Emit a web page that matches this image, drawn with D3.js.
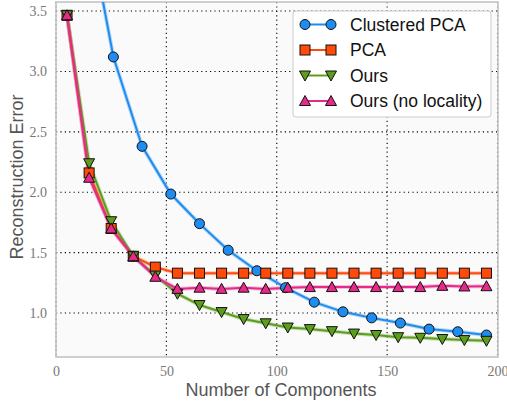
<!DOCTYPE html>
<meta charset="utf-8">
<style>
body { margin: 0; background: #fff; }
.grid line { stroke: #000; stroke-dasharray: 1.2,3.2; stroke-width: 1.1; }
.tick text { font-family: "Liberation Serif", serif; font-size: 14px; fill: #777; }
.legend text { font-family: "Liberation Sans", Arial, sans-serif; font-size: 17.5px; fill: #111; }
.title { font-family: "Liberation Sans", Arial, sans-serif; font-size: 18px; fill: #555; }
</style>
<svg width="507" height="405"></svg>
<script src="https://d3js.org/d3.v7.min.js"></script>
<script>

var svg = d3.select("svg"),
    plotLeft = 56, plotRight = 498, plotTop = 2, plotBottom = 357;

// data
var xClustered = [13, 26, 39, 52, 65, 78, 91, 104, 117, 130, 143, 156, 169, 182, 195];
var clusteredPCA = [4.38, 3.12, 2.38, 1.985, 1.74, 1.52, 1.35, 1.21, 1.09, 1.01, 0.96, 0.917, 0.867, 0.845, 0.818];

var xOthers = [5, 15, 25, 35, 45, 55, 65, 75, 85, 95, 105, 115, 125, 135, 145, 155, 165, 175, 185, 195];
var pca = [3.465, 2.16, 1.70, 1.47, 1.38, 1.33, 1.33, 1.33, 1.33, 1.33, 1.33, 1.33, 1.33, 1.33, 1.33, 1.33, 1.33, 1.33, 1.33, 1.33];
var ours = [3.465, 2.24, 1.76, 1.47, 1.31, 1.16, 1.066, 1.008, 0.95, 0.915, 0.88, 0.867, 0.85, 0.83, 0.818, 0.80, 0.795, 0.785, 0.776, 0.77];
var oursNoLoc = [3.465, 2.12, 1.70, 1.47, 1.30, 1.20, 1.21, 1.20, 1.21, 1.20, 1.21, 1.215, 1.215, 1.215, 1.215, 1.215, 1.215, 1.225, 1.22, 1.222];

var xTicks = [0, 50, 100, 150, 200];
var yTicks = [1.0, 1.5, 2.0, 2.5, 3.0, 3.5];

var series = [
  {name: "Clustered PCA", xs: xClustered, ys: clusteredPCA, color: "#1e8cf0", marker: "circle"},
  {name: "PCA", xs: xOthers, ys: pca, color: "#ff4a0a", marker: "square"},
  {name: "Ours", xs: xOthers, ys: ours, color: "#5c9e1c", marker: "down"},
  {name: "Ours (no locality)", xs: xOthers, ys: oursNoLoc, color: "#e62a8a", marker: "up"}
];

var x = d3.scaleLinear().domain([0, 200]).range([plotLeft, 497.5]);
var y = d3.scaleLinear().domain([0.636, 3.575]).range([plotBottom, plotTop]);

svg.append("defs").append("clipPath").attr("id", "clip")
  .append("rect").attr("x", plotLeft).attr("y", plotTop)
  .attr("width", plotRight - plotLeft).attr("height", plotBottom - plotTop);

svg.append("rect")
  .attr("x", plotLeft).attr("y", plotTop).attr("width", plotRight - plotLeft).attr("height", plotBottom - plotTop)
  .attr("fill", "#fafafa");

// grid
var grid = svg.append("g").attr("class", "grid");
grid.selectAll(".gx").data(xTicks).enter().append("line")
  .attr("x1", function(d) { return x(d); }).attr("x2", function(d) { return x(d); })
  .attr("y1", plotTop).attr("y2", plotBottom);
grid.selectAll(".gy").data(yTicks).enter().append("line")
  .attr("x1", plotLeft).attr("x2", plotRight)
  .attr("y1", function(d) { return y(d); }).attr("y2", function(d) { return y(d); });

svg.append("rect")
  .attr("x", plotLeft).attr("y", plotTop).attr("width", plotRight - plotLeft).attr("height", plotBottom - plotTop)
  .attr("fill", "none").attr("stroke", "#c4c4c4").attr("stroke-width", 1.6);

// axes
var xAxis = svg.append("g").attr("transform", "translate(0," + plotBottom + ")")
  .call(d3.axisBottom(x).tickValues(xTicks).tickSize(0).tickPadding(9).tickFormat(d3.format("d")));
xAxis.select(".domain").remove();

var yAxis = svg.append("g").attr("transform", "translate(" + plotLeft + ",0)")
  .call(d3.axisLeft(y).tickValues(yTicks).tickSize(0).tickPadding(9).tickFormat(d3.format(".1f")));
yAxis.select(".domain").remove();

svg.append("text").attr("class", "title")
  .attr("x", 281).attr("y", 396).attr("text-anchor", "middle")
  .text("Number of Components");
svg.append("text").attr("class", "title")
  .attr("transform", "translate(23,177) rotate(-90)").attr("text-anchor", "middle")
  .text("Reconstruction Error");

function drawMarker(g, type, color) {
  if (type == "circle") {
    g.append("circle").attr("r", 5);
  } else if (type == "square") {
    g.append("rect").attr("x", -5).attr("y", -5).attr("width", 10).attr("height", 10);
  } else if (type == "down") {
    g.append("path").attr("d", "M-5.5,-4.5L5.5,-4.5L0,5.5Z");
  } else {
    g.append("path").attr("d", "M-5.5,4.5L5.5,4.5L0,-5.5Z");
  }
  g.selectAll("*").attr("fill", color).attr("stroke", "#111").attr("stroke-width", 1);
}

var plot = svg.append("g").attr("clip-path", "url(#clip)");
var line = d3.line().x(function(d) { return x(d[0]); }).y(function(d) { return y(d[1]); });

series.forEach(function(s) {
  var pts = d3.zip(s.xs, s.ys);
  plot.append("path").datum(pts)
    .attr("d", line).attr("fill", "none")
    .attr("stroke", s.color).attr("stroke-opacity", 0.3).attr("stroke-width", 4);
  plot.append("path").datum(pts)
    .attr("d", line).attr("fill", "none")
    .attr("stroke", s.color).attr("stroke-width", 2);
});
series.forEach(function(s) {
  d3.zip(s.xs, s.ys).forEach(function(p) {
    var g = plot.append("g").attr("transform", "translate(" + x(p[0]) + "," + y(p[1]) + ")");
    drawMarker(g, s.marker, s.color);
  });
});

// legend
var legend = svg.append("g").attr("class", "legend");
legend.append("rect")
  .attr("x", 293).attr("y", 11).attr("width", 198).attr("height", 106).attr("rx", 3)
  .attr("fill", "#fff").attr("stroke", "#ccc").attr("stroke-width", 1);
series.forEach(function(s, i) {
  var ly = 24.5 + i * 25.5;
  legend.append("line").attr("x1", 305).attr("x2", 331).attr("y1", ly).attr("y2", ly)
    .attr("stroke", s.color).attr("stroke-width", 2);
  drawMarker(legend.append("g").attr("transform", "translate(305," + ly + ")"), s.marker, s.color);
  drawMarker(legend.append("g").attr("transform", "translate(331," + ly + ")"), s.marker, s.color);
  legend.append("text").attr("x", 350).attr("y", ly + 6.3).text(s.name);
});

</script>
